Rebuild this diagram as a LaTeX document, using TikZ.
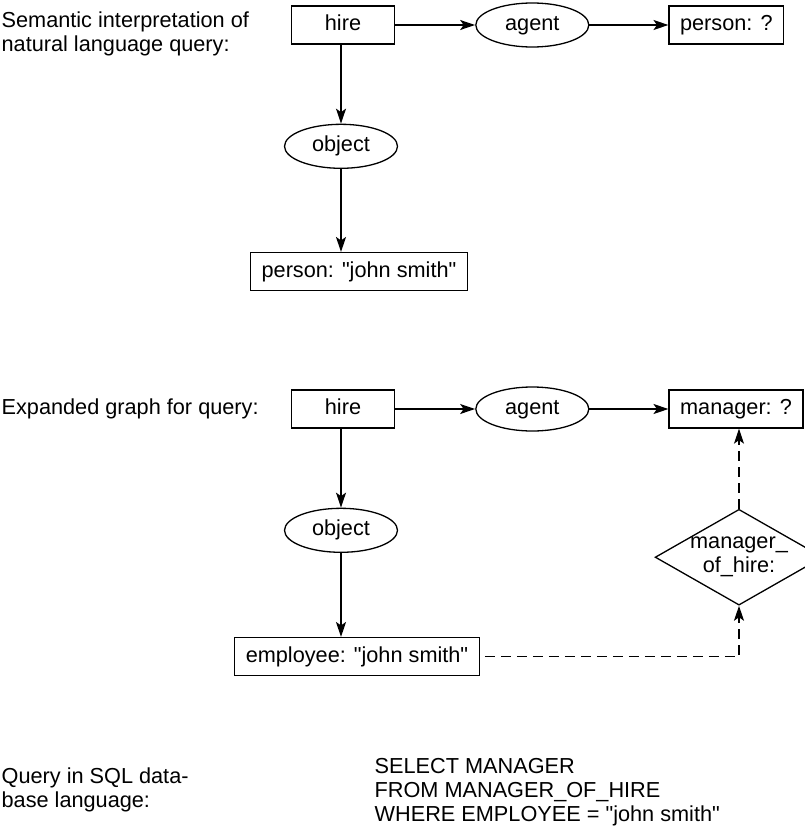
\documentclass[tikz,border=0pt]{standalone}
\usepackage{fontspec}
\setmainfont{Liberation Sans}
\usetikzlibrary{arrows.meta,positioning,shapes.geometric}
\newcommand{\dq}{\textquotedbl}

\begin{document}
\begin{tikzpicture}[x=1pt,y=-1pt,node distance=80pt,>={Stealth[length=15pt,width=10pt,inset=3.5pt]},line width=1.3pt,font=\fontsize{21.7}{24}\selectfont]
  \tikzset{cbox/.style={draw,minimum height=38pt,minimum width=103pt,inner xsep=11pt,inner ysep=0pt,text height=15pt,text depth=4pt},
    rel/.style={draw,ellipse,minimum width=113pt,minimum height=44pt,inner sep=0pt,text height=15pt,text depth=4pt},
    func/.style={draw,diamond,aspect=1.75,minimum width=164pt,minimum height=95pt,inner sep=0pt,align=center},
    lbl/.style={inner sep=0pt,align=left,anchor=west},
    link/.style={->},
    derived/.style={->,dash pattern=on 10pt off 6pt}}
  \useasboundingbox (0,0) rectangle (804,827);
  % semantic interpretation
  \node[lbl] (sem) at (1,34) {Semantic interpretation of\\natural language query:};
  \node[cbox] (hire1) at (343,25) {hire};
  \node[rel,right=of hire1] (agent1) {agent};
  \node[cbox,right=79pt of agent1] (pers1) {person: ?};
  \node[rel,below=79pt of hire1,xshift=-2pt] (obj1) {object};
  \node[cbox,below=83pt of obj1,xshift=18pt] (js1) {person: \dq john smith\dq};
  \draw[link] (hire1) -- (agent1);
  \draw[link] (agent1) -- (pers1);
  \draw[link] (obj1 |- hire1.south) -- (obj1.north);
  \draw[link] (obj1.south) -- (obj1.south |- js1.north);
  % expanded graph
  \node[lbl] (exp) at (1,409) {Expanded graph for query:};
  \node[cbox] (hire2) at (343,409) {hire};
  \node[rel,right=of hire2] (agent2) {agent};
  \node[cbox,right=79pt of agent2] (mgr2) {manager: ?};
  \node[rel,below=79pt of hire2,xshift=-2pt] (obj2) {object};
  \node[cbox,below=84pt of obj2,xshift=16pt] (emp2) {employee: \dq john smith\dq};
  \node[func,below=80pt of mgr2,xshift=3pt] (moh) {manager\_\\of\_hire:};
  \draw[link] (hire2) -- (agent2);
  \draw[link] (agent2) -- (mgr2);
  \draw[link] (obj2 |- hire2.south) -- (obj2.north);
  \draw[link] (obj2.south) -- (obj2.south |- emp2.north);
  \draw[derived,shorten <=5pt] (emp2.east) -| (moh.south);
  \draw[derived] (moh.north) -- (moh.north |- mgr2.south);
  % sql
  \node[lbl] (sqlq) at (1,790) {Query in SQL data-\\base language:};
  \node[lbl] (sql) at (374,792) {SELECT MANAGER\\FROM MANAGER\_OF\_HIRE\\WHERE EMPLOYEE = \dq john smith\dq};
\end{tikzpicture}
\end{document}
